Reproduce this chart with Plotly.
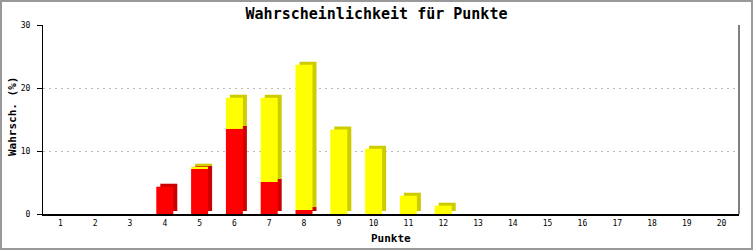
import plotly.graph_objects as go

points = list(range(1, 21))
red_vals = [0, 0, 0, 4.33, 7.14, 13.5, 5.08, 0.63, 0, 0, 0, 0, 0, 0, 0, 0, 0, 0, 0, 0]
yellow_vals = [0, 0, 0, 0, 0.37, 4.96, 13.38, 23.07, 13.4, 10.37, 2.9, 1.32, 0, 0, 0, 0, 0, 0, 0, 0]
tick_labels = [str(p) for p in points]

W, H = 753, 250
L, R, T, B = 43, 14, 25, 36
plot_w = W - L - R
plot_h = H - T - B
ymax = 30
px_x = plot_w / 20.0
px_y = plot_h / ymax

bw = 17 / px_x
dx = 4 / px_x
dy = 3 / px_y

fig = go.Figure()

def seg(base, vals, color, shift, name):
    fig.add_trace(go.Bar(
        x=points, y=vals,
        base=[b + (dy if shift else 0) for b in base],
        width=bw,
        offset=-bw / 2 + (dx if shift else 0),
        marker=dict(color=color, line=dict(width=0)),
        name=name, showlegend=False, hoverinfo="skip",
    ))

zero = [0] * 20
seg(zero, red_vals, "#CC0000", True, "red3d")
seg(red_vals, yellow_vals, "#CCCC00", True, "yellow3d")
seg(zero, red_vals, "#FF0000", False, "red")
seg(red_vals, yellow_vals, "#FFFF00", False, "yellow")

mono = "DejaVu Sans Mono"
fig.update_layout(
    width=W, height=H,
    margin=dict(l=L, r=R, t=T, b=B, autoexpand=False),
    paper_bgcolor="white", plot_bgcolor="white",
    barmode="overlay",
    title=dict(text="Wahrscheinlichkeit für Punkte", x=0.5, xanchor="center",
               y=1 - 14 / H, yanchor="middle",
               font=dict(family=mono, size=15, color="black", weight="bold")),
    xaxis=dict(
        range=[0.5, 20.5], tickmode="array", tickvals=points, ticktext=tick_labels,
        showgrid=False, zeroline=False, showline=True, linecolor="black", linewidth=2,
        ticks="", tickfont=dict(family=mono, size=8, color="black"),
        automargin=False, fixedrange=True,
    ),
    yaxis=dict(
        range=[0, ymax], tickvals=[0, 10, 20, 30],
        showgrid=True, gridcolor="#BBBBBB", griddash="2px,4px", gridwidth=1,
        zeroline=False, showline=True, linecolor="black", linewidth=1,
        ticks="outside", ticklen=5, tickcolor="black", ticklabelstandoff=5,
        tickfont=dict(family=mono, size=8, color="black"),
        automargin=False, fixedrange=True,
    ),
)

fig.add_annotation(text="<b>Punkte</b>", xref="paper", yref="paper",
                   x=0.5, y=-(238 - (H - B)) / plot_h, xanchor="center", yanchor="middle",
                   showarrow=False, font=dict(family=mono, size=11, color="black"))
fig.add_annotation(text="<b>Wahrsch. (%)</b>", xref="paper", yref="paper",
                   x=-(L - 12) / plot_w, y=1 - (117 - T) / plot_h, xanchor="center", yanchor="middle",
                   textangle=-90, showarrow=False, font=dict(family=mono, size=11, color="black"))

# right frame line of plot area
fig.add_shape(type="line", xref="paper", yref="paper", x0=1, x1=1, y0=0, y1=1,
              line=dict(color="black", width=1))
# outer grey border of the image
fig.add_shape(type="rect", xref="paper", yref="paper",
              x0=-(L - 1) / plot_w, x1=1 + (R - 1) / plot_w,
              y0=-(B - 1) / plot_h, y1=1 + (T - 1) / plot_h,
              line=dict(color="#999999", width=2), fillcolor="rgba(0,0,0,0)", layer="above")

fig.write_html("out.html")
